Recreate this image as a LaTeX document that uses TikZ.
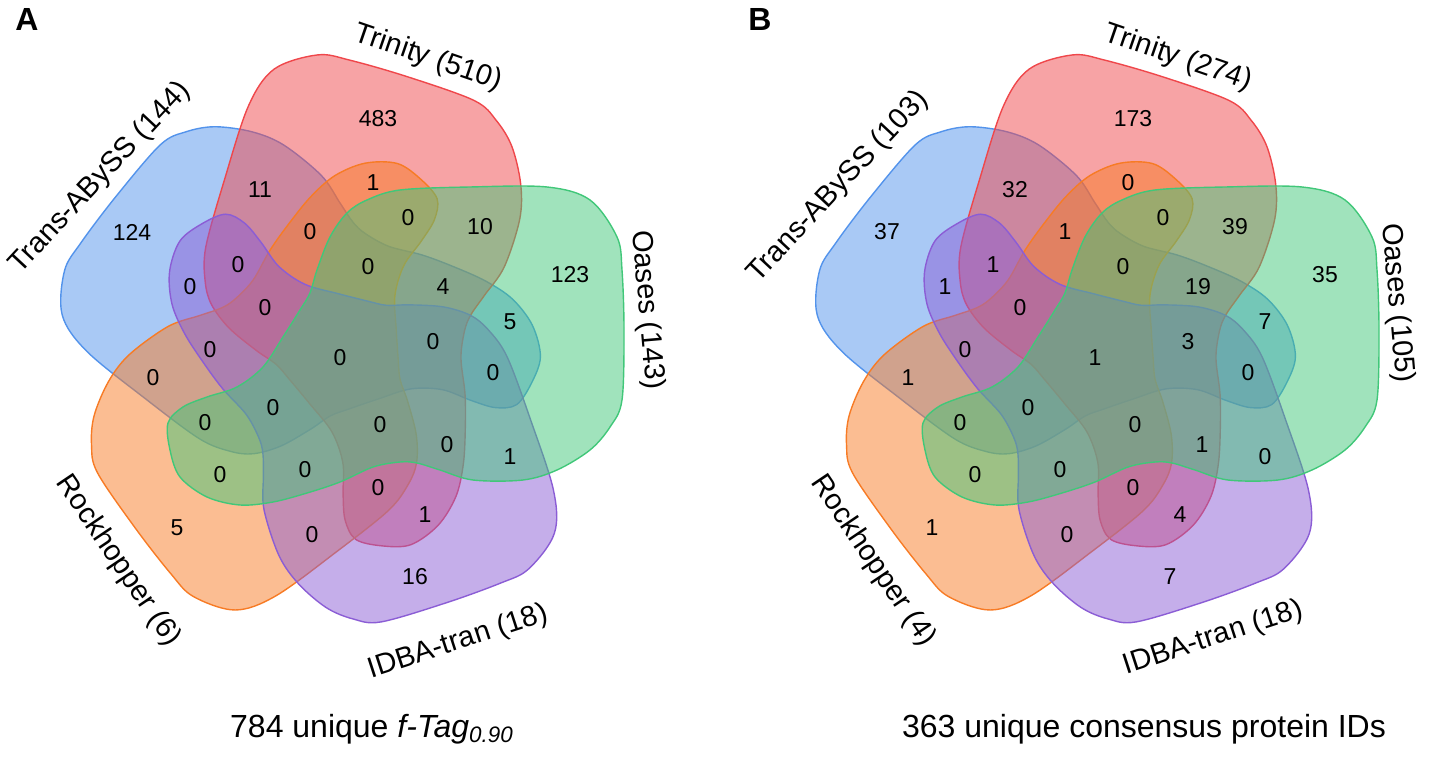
\documentclass[tikz,border=0pt]{standalone}
\usepackage{fontspec}
\setmainfont{Liberation Sans}
\definecolor{setblue}{RGB}{83,147,235}
\definecolor{setred}{RGB}{239,71,75}
\definecolor{setorange}{RGB}{247,123,37}
\definecolor{setpurple}{RGB}{139,93,213}
\definecolor{setgreen}{RGB}{65,199,121}
% one set outline (Oases position), the others are rotations of it
\def\vennblob{plot[smooth cycle, tension=0.55] coordinates {
	(58,-162) (25,-152) (5,-139) (-12,-115) (-25,-82) (-32,-59) (-42,-42)
	(-59,-15) (-79,15) (-105,35) (-135,45) (-159,55) (-174,71) (-172,98)
	(-162,125) (-135,145) (-102,153) (-69,150) (-35,141) (-2,130) (31,115)
	(58,110) (75,111) (98,118) (131,128) (181,128) (215,118) (248,98)
	(268,75) (280,48) (282,-22) (280,-82) (275,-115) (248,-152) (205,-165)
	(128,-165)}}
\begin{document}
\begin{tikzpicture}[x=0.5pt,y=-0.5pt,
	num/.style={inner sep=0pt, font=\fontsize{11.5}{13}\selectfont},
	setlabel/.style={inner sep=0pt, font=\fontsize{14.5}{17}\selectfont},
	caption/.style={anchor=base, inner sep=0pt, font=\fontsize{16}{19}\selectfont},
	panel/.style={inner sep=0pt, font=\fontsize{16}{18}\selectfont\bfseries},
	blob/.style={fill=#1, fill opacity=0.5, draw=#1, line width=0.7pt}]
	\useasboundingbox (0,0) rectangle (1429,758);
	
	% halmazok, mindket panelen
	\foreach \dx in {0,755} {
		\path[blob=setblue, shift={(342+\dx,352)}, rotate=141, scale=0.97] \vennblob;
		\path[blob=setred, shift={(342+\dx,352)}, rotate=72] \vennblob;
		\path[blob=setorange, shift={(342+\dx,352)}, rotate=216, scale=0.96] \vennblob;
		\path[blob=setpurple, shift={(342+\dx,352)}, rotate=288, scale=0.96] \vennblob;
		\path[blob=setgreen, shift={(342+\dx,352)}] \vennblob;
	}
	
	% metszetek szamai (A / B)
	\foreach \px/\py/\va/\vb [count=\i] in {
		378/119/483/173, 260/190/11/32, 373/183/1/0, 132/232/124/37,
		310/232/0/1, 408/218/0/0, 480/227/10/39, 570/275/123/35,
		238/265/0/1, 368/267/0/0, 443/287/4/19, 190/287/0/1,
		265/308/0/0, 510/322/5/7, 210/350/0/0, 340/358/0/1,
		433/342/0/3, 153/378/0/1, 493/373/0/0, 273/408/0/0,
		205/423/0/0, 380/425/0/0, 447/445/0/1, 510/457/1/0,
		220/475/0/0, 305/470/0/0, 378/488/0/0, 425/515/1/4,
		177/528/5/1, 312/535/0/0, 415/577/16/7} {
		\node[num] (a\i) at (\px,\py) {\va};
		\node[num] (b\i) at (\px+755,\py) {\vb};
	}
	
	% halmazok nevei
	\node[setlabel, rotate=-19] (trinA) at (428,58) {Trinity (510)};
	\node[setlabel, rotate=47] (abyssA) at (100,178) {Trans-ABySS (144)};
	\node[setlabel, rotate=-85] (oasesA) at (647,310) {Oases (143)};
	\node[setlabel, rotate=-56] (rockA) at (118,561) {Rockhopper (6)};
	\node[setlabel, rotate=18] (idbaA) at (458,642) {IDBA-tran (18)};
	
	\node[setlabel, rotate=-19] (trinB) at (1178,58) {Trinity (274)};
	\node[setlabel, rotate=47] (abyssB) at (838,187) {Trans-ABySS (103)};
	\node[setlabel, rotate=-85] (oasesB) at (1397,303) {Oases (105)};
	\node[setlabel, rotate=-56] (rockB) at (873,561) {Rockhopper (4)};
	\node[setlabel, rotate=18] (idbaB) at (1213,638) {IDBA-tran (18)};
	
	% panel betuk es feliratok
	\node[panel] (panA) at (27,20) {A};
	\node[panel] (panB) at (760,20) {B};
	\node[caption] (capA) at (372,737) {784 unique {\itshape f-Tag}\textsubscript{\itshape 0.90}};
	\node[caption] (capB) at (1144,737) {363 unique consensus protein IDs};
\end{tikzpicture}
\end{document}
